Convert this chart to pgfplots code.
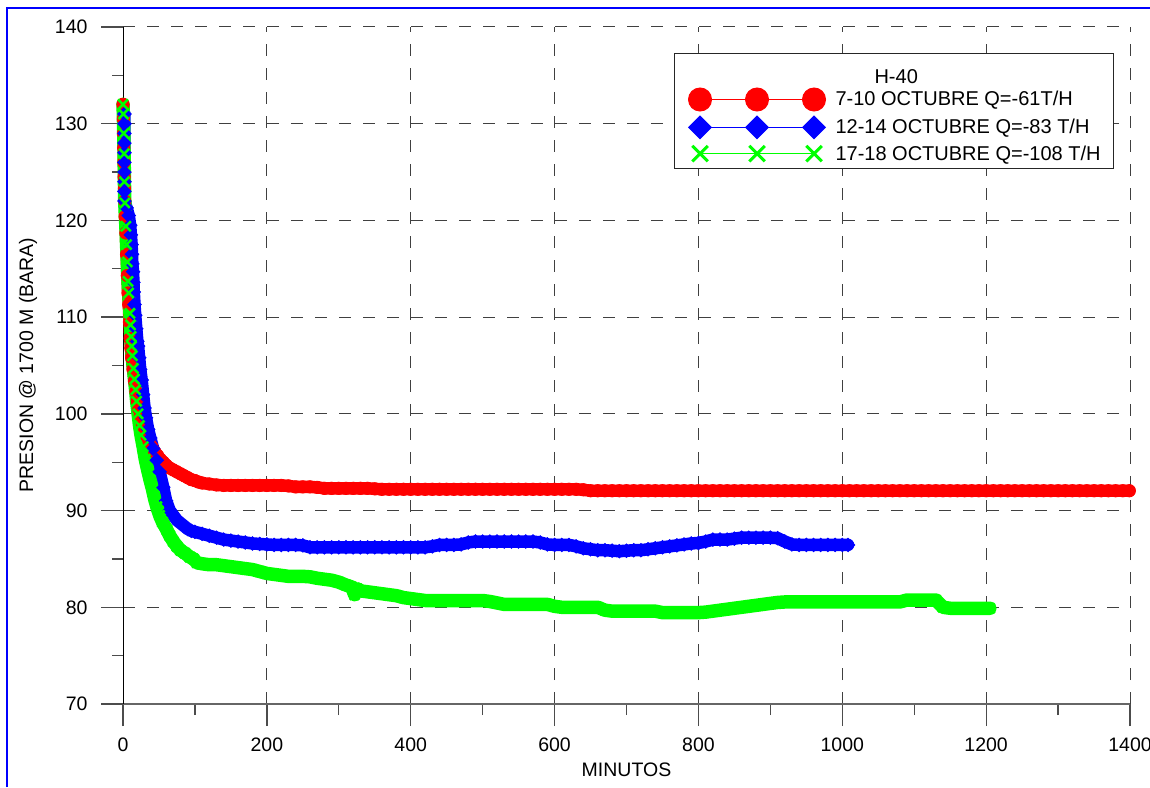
\documentclass[border=0pt]{standalone}
\usepackage{fontspec}
\setmainfont{Liberation Sans}
\usepackage{pgfplots}
\pgfplotsset{compat=1.18}
\usepackage{pgfplotstable}

\definecolor{cred}{RGB}{255,0,0}
\definecolor{cblue}{RGB}{0,0,255}
\definecolor{cgreen}{RGB}{0,255,0}

\pgfplotstableread{
t P
0 132.0
0.5 130.5
0.8 129.0
1.0 127.5
1.3 126.0
1.6 124.5
2.0 123.3
2.5 122.0
3.0 120.4
4.0 118.7
5.0 116.5
6.0 114.3
7.0 112.5
8.0 111.3
9.0 109.5
10 107.8
11 106.8
12 105.8
14 104.6
16 103.4
18 102.3
20 101.3
22 100.5
24 99.8
27 99.0
30 98.3
33 97.7
36 97.2
40 96.6
44 96.1
48 95.7
52 95.3
56 95.0
60 94.7
65 94.4
70 94.2
75 94.0
80 93.8
85 93.6
90 93.4
95 93.2
100 93.1
105 92.95
110 92.85
120 92.75
130 92.65
140 92.6
150 92.6
160 92.6
170 92.6
180 92.6
190 92.6
200 92.6
210 92.6
220 92.6
230 92.55
240 92.45
250 92.45
260 92.45
270 92.4
280 92.3
290 92.3
300 92.3
310 92.3
320 92.3
330 92.3
340 92.3
350 92.25
360 92.2
370 92.2
380 92.2
390 92.2
400 92.2
410 92.2
420 92.2
430 92.2
440 92.2
450 92.2
460 92.2
470 92.2
480 92.2
490 92.2
500 92.2
510 92.2
520 92.2
530 92.2
540 92.2
550 92.2
560 92.2
570 92.2
580 92.2
590 92.2
600 92.2
610 92.2
620 92.2
630 92.2
640 92.15
650 92.05
660 92.05
670 92.05
680 92.05
690 92.05
700 92.05
710 92.05
720 92.05
730 92.05
740 92.05
750 92.05
760 92.05
770 92.05
780 92.05
790 92.05
800 92.05
810 92.05
820 92.05
830 92.05
840 92.05
850 92.05
860 92.05
870 92.05
880 92.05
890 92.05
900 92.05
910 92.05
920 92.05
930 92.05
940 92.05
950 92.05
960 92.05
970 92.05
980 92.05
990 92.05
1000 92.05
1010 92.05
1020 92.05
1030 92.05
1040 92.05
1050 92.05
1060 92.05
1070 92.05
1080 92.05
1090 92.05
1100 92.05
1110 92.05
1120 92.05
1130 92.05
1140 92.05
1150 92.05
1160 92.05
1170 92.05
1180 92.05
1190 92.05
1200 92.05
1210 92.05
1220 92.05
1230 92.05
1240 92.05
1250 92.05
1260 92.05
1270 92.05
1280 92.05
1290 92.05
1300 92.05
1310 92.05
1320 92.05
1330 92.05
1340 92.05
1350 92.05
1360 92.05
1370 92.05
1380 92.05
1390 92.05
1399 92.05
}\redtab

\pgfplotstableread{
t P
2 131.0
2 130.0
2 129.0
2 128.0
2 127.0
2 126.0
2 125.0
2 124.0
2 123.0
2 122.0
5 121.3
8 120.5
10 119.5
11 118.5
12 117.5
12.5 116.5
13 115.5
14 114.7
14.5 113.6
15 112.6
16 111.3
17 110.2
18.5 108.8
20 107.5
21 107.0
22.5 105.8
24 104.6
26 103.5
28 102.0
30 100.6
32 99.6
35 98.4
38 97.5
42 96.4
47 95.2
51 94.0
56 92.4
60 91.0
65 90.0
70 89.5
75 89.0
80 88.7
85 88.4
90 88.1
95 87.9
100 87.8
110 87.6
120 87.4
130 87.2
140 87.0
150 86.9
160 86.8
170 86.7
180 86.6
190 86.55
200 86.5
210 86.45
220 86.45
230 86.45
240 86.45
250 86.4
260 86.2
270 86.2
280 86.2
290 86.2
300 86.2
310 86.2
320 86.2
330 86.2
340 86.2
350 86.2
360 86.2
370 86.2
380 86.2
390 86.2
400 86.2
410 86.2
420 86.2
430 86.3
440 86.45
450 86.45
460 86.45
470 86.5
480 86.7
490 86.8
500 86.8
510 86.8
520 86.8
530 86.8
540 86.8
550 86.8
560 86.8
570 86.8
580 86.7
590 86.5
600 86.45
610 86.45
620 86.45
630 86.3
640 86.1
650 86.0
660 85.9
670 85.9
680 85.85
690 85.8
700 85.85
710 85.9
720 85.9
730 86.0
740 86.1
750 86.2
760 86.3
770 86.4
780 86.5
790 86.6
800 86.65
810 86.8
820 87.0
830 87.0
840 87.0
850 87.1
860 87.2
870 87.2
880 87.2
890 87.2
900 87.2
910 87.15
920 86.8
930 86.5
940 86.45
950 86.45
960 86.45
970 86.45
980 86.45
990 86.45
1000 86.45
1008 86.45
}\bluetab

\pgfplotstableread{
t P
0 132.0
0.5 131.0
1 129.0
1.5 126.9
2 124.0
2.5 121.8
4 119.4
5 117.5
6 115.7
7 113.7
8 112.5
9.7 110.4
10.5 109.2
11.3 108.0
12 107.0
13 106.0
14.5 104.7
16 103.6
17.5 102.5
19 101.3
21 100.0
23 98.8
25 97.8
28 96.6
31 95.3
34 94.3
37.5 93.2
41 92.2
44 91.2
47 90.4
51 89.5
55 88.8
61 88.0
65 87.4
70 86.8
75 86.3
80 85.9
86 85.6
93 85.2
98 85.0
103 84.6
110 84.5
120 84.4
130 84.4
140 84.3
150 84.2
160 84.1
170 84.0
180 83.9
190 83.7
200 83.5
210 83.4
220 83.3
230 83.2
240 83.2
250 83.2
260 83.15
270 83.0
280 82.9
290 82.8
300 82.6
310 82.3
318 82.1
322 81.3
326 81.9
330 81.7
340 81.6
350 81.5
360 81.4
370 81.3
380 81.2
390 81.0
400 80.9
410 80.8
420 80.7
430 80.7
440 80.7
450 80.7
460 80.7
470 80.7
480 80.7
490 80.7
500 80.7
510 80.6
520 80.45
530 80.3
540 80.3
550 80.3
560 80.3
570 80.3
580 80.3
590 80.3
600 80.1
610 80.0
620 80.0
630 80.0
640 80.0
650 80.0
660 80.0
670 79.7
680 79.6
690 79.6
700 79.6
710 79.6
720 79.6
730 79.6
740 79.6
750 79.45
760 79.45
770 79.45
780 79.45
790 79.45
800 79.45
810 79.5
820 79.6
830 79.7
840 79.8
850 79.9
860 80.0
870 80.1
880 80.2
890 80.3
900 80.4
910 80.5
920 80.55
930 80.55
940 80.55
950 80.55
960 80.55
970 80.55
980 80.55
990 80.55
1000 80.55
1010 80.55
1020 80.55
1030 80.55
1040 80.55
1050 80.55
1060 80.55
1070 80.55
1080 80.55
1090 80.75
1100 80.75
1110 80.75
1120 80.75
1130 80.75
1140 80.0
1150 79.9
1160 79.9
1170 79.9
1180 79.9
1190 79.9
1200 79.9
1205 79.9
}\greentab

\pgfplotsset{
  threemarks/.style={legend image code/.code={%
    \draw[color=#1, line width=1.3pt] (0pt,0pt) -- (114pt,0pt);
    \draw[mark repeat=1,##1,draw=none,only marks] plot coordinates {(0pt,0pt) (57pt,0pt) (114pt,0pt)};}},
}

\begin{document}
\begin{tikzpicture}[x=1pt,y=1pt]
\useasboundingbox (0,0) rectangle (1150,787);
\draw[cblue, line width=2pt] (7,0) -- (7,779) -- (1150,779);
\begin{axis}[
  at={(123pt,83pt)}, anchor=south west,
  width=1007pt, height=677pt, scale only axis,
  xmin=0, xmax=1400, ymin=70, ymax=140,
  xtick={0,200,...,1400}, ytick={70,80,...,140},
  minor xtick={100,300,...,1300}, minor ytick={75,85,...,135},
  tick align=outside, major tick length=22pt, minor tick length=11pt,
  axis x line*=bottom, axis y line*=left,
  x axis line style={black!60, line width=1.3pt},
  y axis line style={black, line width=1pt},
  grid=major,
  major grid style={black!75, line width=1pt, dash pattern=on 12pt off 12pt},
  major tick style={black!70, line width=1.3pt},
  minor tick style={black!70, line width=1.3pt},
  clip=false,
  ticklabel style={font=\fontsize{19.5}{23}\selectfont},
  yticklabel style={xshift=-10pt},
  xticklabel style={yshift=-8pt},
  /pgf/number format/assume math mode=true,
  /pgf/number format/1000 sep={},
  scaled ticks=false,
  legend style={at={(0.5472,0.9616)}, anchor=north west,
    draw=black!85, line width=1pt,
    font=\fontsize{20}{24}\selectfont,
    inner xsep=14pt, inner ysep=5pt, row sep=5pt},
  legend cell align=left,
]
\addplot[cred, line width=12.4pt, line join=round, line cap=round, no marks, forget plot] table {\redtab};
\addplot[cred, line width=0.8pt, mark=*, mark size=6.2pt, forget plot] table {\redtab};
\addplot[cblue, line width=12.5pt, line join=round, line cap=round, no marks, forget plot] table {\bluetab};
\addplot[cblue, line width=0.8pt, mark=square*, mark size=4.8pt, mark options={rotate=45}, forget plot] table {\bluetab};
\addplot[cgreen, line width=13.5pt, line join=round, line cap=round, no marks, forget plot] table {\greentab};
\addplot[cgreen, line width=0.8pt, mark=x, mark size=7pt, mark options={line width=2.5pt}, forget plot] table {\greentab};

\addlegendimage{empty legend}
\addlegendentry{\hspace*{47pt}\rule{0pt}{19pt}\raisebox{-4pt}[\height][0pt]{H-40}}
\addlegendimage{threemarks=cred, cred, mark=*, mark size=11.5pt, mark options={fill=cred, draw=cred}}
\addlegendentry{\hspace*{8pt}7-10 OCTUBRE Q=-61T/H}
\addlegendimage{threemarks=cblue, cblue, mark=square*, mark size=8pt, mark options={rotate=45, fill=cblue, draw=cblue}}
\addlegendentry{\hspace*{8pt}12-14 OCTUBRE Q=-83 T/H}
\addlegendimage{threemarks=cgreen, cgreen, mark=x, mark size=11pt, mark options={line width=3pt, draw=cgreen}}
\addlegendentry{\hspace*{8pt}17-18 OCTUBRE Q=-108 T/H\hspace*{-3pt}}
\end{axis}
\node[font=\fontsize{19.5}{23}\selectfont] at (626.5,17) {MINUTOS};
\node[rotate=90, font=\fontsize{19.5}{23}\selectfont] at (28,422) {PRESION @ 1700 M (BARA)};
\end{tikzpicture}
\end{document}
